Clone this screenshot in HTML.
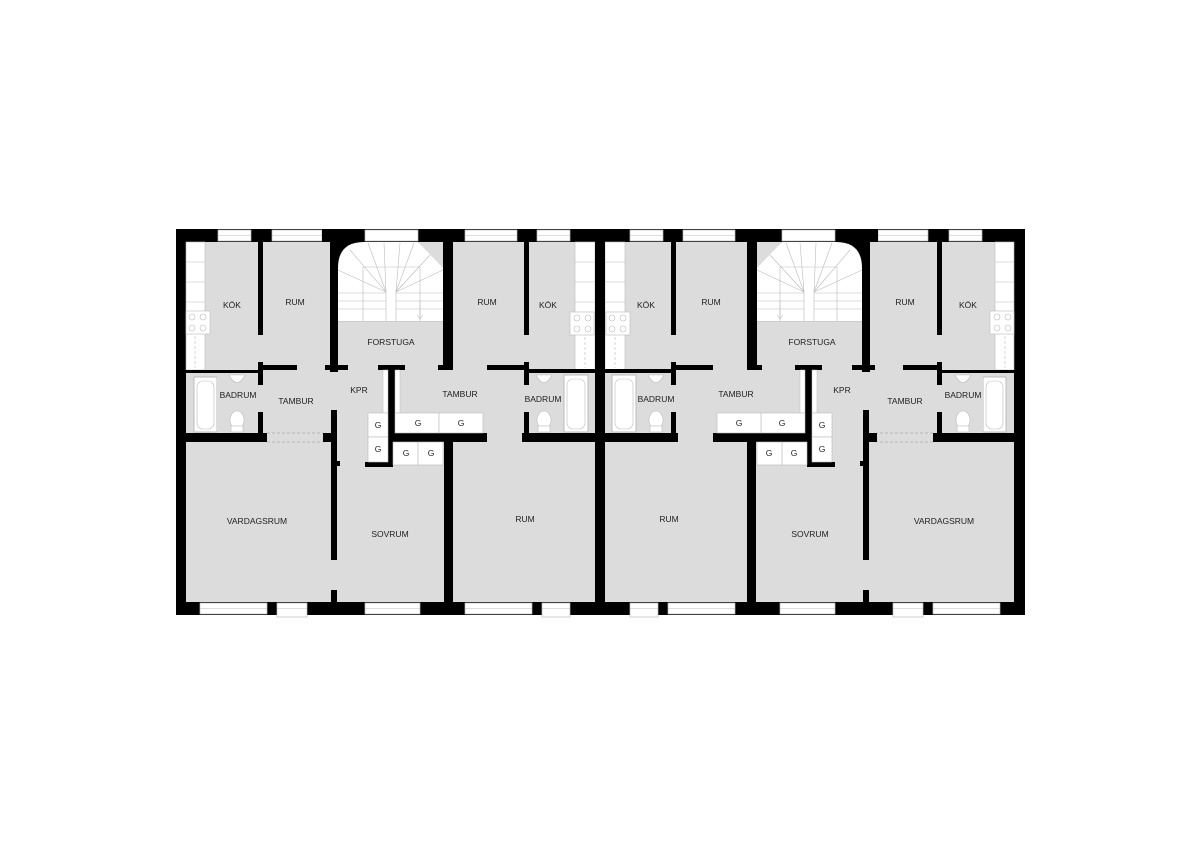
<!DOCTYPE html>
<html><head><meta charset="utf-8"><style>
html,body{margin:0;padding:0;background:#fff;width:1200px;height:848px;overflow:hidden}
svg{display:block}
text{font-family:"Liberation Sans",sans-serif;font-size:8.5px;fill:#222;text-anchor:middle}
</style></head><body>
<svg width="1200" height="848" viewBox="0 0 1200 848" xmlns="http://www.w3.org/2000/svg">
<defs>
<g id="half">
  <!-- floor -->
  <rect x="176" y="229" width="424" height="386" fill="#dcdcdc"/>
  <!-- outer walls -->
  <rect x="176" y="229" width="424" height="13" fill="#000"/>
  <rect x="176" y="229" width="10" height="386" fill="#000"/>
  <rect x="176" y="602" width="424" height="13" fill="#000"/>
  <rect x="595" y="229" width="5" height="386" fill="#000"/>
  <!-- top windows -->
  <g fill="#fff" stroke="#bbb" stroke-width="0.7">
    <rect x="218" y="230" width="33" height="11"/>
    <rect x="272" y="230" width="50" height="11"/>
    <rect x="365" y="230" width="53" height="11"/>
    <rect x="465" y="230" width="52" height="11"/>
    <rect x="537" y="230" width="33" height="11"/>
    <!-- bottom windows -->
    <rect x="200" y="603" width="67" height="11"/>
    <rect x="277" y="603" width="30" height="14"/>
    <rect x="365" y="603" width="55" height="11"/>
    <rect x="465" y="603" width="67" height="11"/>
    <rect x="542" y="603" width="28" height="14"/>
  </g>
  <g stroke="#bbb" stroke-width="0.6">
    <line x1="218" y1="235.5" x2="251" y2="235.5"/><line x1="272" y1="235.5" x2="322" y2="235.5"/>
    <line x1="365" y1="235.5" x2="418" y2="235.5"/><line x1="465" y1="235.5" x2="517" y2="235.5"/>
    <line x1="537" y1="235.5" x2="570" y2="235.5"/>
    <line x1="200" y1="608.5" x2="267" y2="608.5"/><line x1="277" y1="608.5" x2="307" y2="608.5"/>
    <line x1="365" y1="608.5" x2="420" y2="608.5"/><line x1="465" y1="608.5" x2="532" y2="608.5"/>
    <line x1="542" y1="608.5" x2="570" y2="608.5"/>
  </g>
  <!-- stair block -->
  <rect x="322" y="229" width="131" height="13" fill="#000"/>
  <rect x="330" y="229" width="8" height="143" fill="#000"/>
  <rect x="443" y="229" width="10" height="141" fill="#000"/>
  <path d="M338 242 L338 321 L443 321 L443 270 L418 242 Z" fill="#000"/>
  <path d="M338 321 L338 268 Q338 242 364 242 L418 242 L443 268 L443 321 Z" fill="#fff"/>
  <rect x="365" y="230" width="53" height="11" fill="#fff" stroke="#bbb" stroke-width="0.7"/>
  <g stroke="#bbb" stroke-width="0.6" fill="none">
    <line x1="338" y1="293" x2="386" y2="293"/><line x1="338" y1="301" x2="386" y2="301"/>
    <line x1="338" y1="309" x2="386" y2="309"/><line x1="396" y1="293" x2="443" y2="293"/>
    <line x1="396" y1="301" x2="443" y2="301"/><line x1="396" y1="309" x2="443" y2="309"/>
    <line x1="386" y1="292" x2="386" y2="321"/><line x1="396" y1="292" x2="396" y2="321"/>
    <line x1="363" y1="267" x2="420" y2="267"/><line x1="363" y1="267" x2="363" y2="321"/><line x1="420" y1="267" x2="420" y2="321"/>
    <line x1="386" y1="292" x2="338" y2="270"/><line x1="386" y1="292" x2="350" y2="250"/><line x1="386" y1="292" x2="368" y2="243"/><line x1="386" y1="292" x2="384" y2="243"/>
    <line x1="396" y1="292" x2="443" y2="270"/><line x1="396" y1="292" x2="430" y2="255"/><line x1="396" y1="292" x2="414" y2="243"/><line x1="396" y1="292" x2="400" y2="243"/>
    <line x1="420" y1="300" x2="420" y2="318"/><path d="M417 315 L420 319 L423 315"/>
  </g>
  <rect x="338" y="321" width="105" height="1" fill="#ccc"/>
  <!-- stair wall T stubs -->
  <rect x="325" y="365" width="23" height="5" fill="#000"/>
  <rect x="438" y="365" width="15" height="5" fill="#000"/>
  <!-- kitchen / room dividers -->
  <rect x="258" y="242" width="5" height="93" fill="#000"/>
  <rect x="524" y="242" width="5" height="93" fill="#000"/>
  <!-- kitchen counters -->
  <rect x="186" y="242" width="19" height="128" fill="#fff" stroke="#bbb" stroke-width="0.6"/>
  <g stroke="#bbb" stroke-width="0.6" fill="none">
    <line x1="186" y1="262" x2="205" y2="262"/><line x1="186" y1="282" x2="205" y2="282"/><line x1="186" y1="302" x2="205" y2="302"/>
    <rect x="186" y="311" width="24" height="23" fill="#fff"/>
    <circle cx="192" cy="317" r="3"/><circle cx="203" cy="317" r="3"/><circle cx="192" cy="328" r="3"/><circle cx="203" cy="328" r="3"/>
    <line x1="195" y1="336" x2="195" y2="368" stroke-dasharray="3,2"/>
  </g>
  <rect x="575" y="242" width="20" height="128" fill="#fff" stroke="#bbb" stroke-width="0.6"/>
  <g stroke="#bbb" stroke-width="0.6" fill="none">
    <line x1="575" y1="262" x2="595" y2="262"/><line x1="575" y1="282" x2="595" y2="282"/><line x1="575" y1="302" x2="595" y2="302"/>
    <rect x="570" y="312" width="24" height="23" fill="#fff"/>
    <circle cx="577" cy="318" r="3"/><circle cx="588" cy="318" r="3"/><circle cx="577" cy="329" r="3"/><circle cx="588" cy="329" r="3"/>
    <line x1="585" y1="337" x2="585" y2="368" stroke-dasharray="3,2"/>
  </g>
  <!-- left bathroom -->
  <rect x="186" y="370" width="75" height="3" fill="#000"/>
  <rect x="263" y="365" width="34" height="5" fill="#000"/>
  <rect x="258" y="362" width="5" height="23" fill="#000"/>
  <rect x="258" y="412" width="5" height="25" fill="#000"/>
  <rect x="186" y="433" width="81" height="9" fill="#000"/>
  <rect x="186" y="373" width="72" height="60" fill="#dcdcdc"/>
  <rect x="194" y="377" width="23" height="55" fill="#fff" stroke="#bbb"/>
  <rect x="197" y="381" width="17" height="48" rx="6" fill="#fff" stroke="#bbb" stroke-width="0.6"/>
  <rect x="217" y="373" width="41" height="60" fill="#dcdcdc"/>
  <path d="M229 375 Q237 390 245 375 Z" fill="#fff" stroke="#bbb" stroke-width="0.6"/>
  <ellipse cx="237" cy="420" rx="7" ry="9" fill="#fff" stroke="#bbb" stroke-width="0.6"/>
  <rect x="231" y="426" width="12" height="6" fill="#fff" stroke="#bbb" stroke-width="0.6"/>
  <!-- dashed opening tambur -> vardagsrum -->
  <g stroke="#aaa" stroke-width="0.7" stroke-dasharray="3,2">
    <line x1="267" y1="433" x2="323" y2="433"/><line x1="267" y1="442" x2="323" y2="442"/>
  </g>
  <rect x="323" y="433" width="14" height="9" fill="#000"/>
  <!-- vardagsrum / sovrum wall -->
  <rect x="331" y="410" width="6" height="150" fill="#000"/>
  <rect x="337" y="461" width="3" height="5" fill="#000"/>
  <rect x="331" y="590" width="6" height="13" fill="#000"/>
  <!-- KPR / closets -->
  <rect x="378" y="365" width="27" height="5" fill="#000"/>
  <rect x="388" y="368" width="7" height="97" fill="#000"/>
  <rect x="365" y="462" width="28" height="5" fill="#000"/>
  <rect x="388" y="433" width="99" height="9" fill="#000"/>
  <rect x="383" y="370" width="5" height="43" fill="#fff" stroke="#bbb" stroke-width="0.5"/>
  <rect x="395" y="370" width="5" height="43" fill="#fff" stroke="#bbb" stroke-width="0.5"/>
  <g fill="#fff" stroke="#bbb" stroke-width="0.6">
    <rect x="368" y="413" width="20" height="24"/><rect x="368" y="437" width="20" height="25"/>
    <rect x="395" y="413" width="44" height="20"/><rect x="439" y="413" width="44" height="20"/>
    <rect x="393" y="442" width="25" height="23"/><rect x="418" y="442" width="25" height="23"/>
  </g>
  <!-- sovrum / rum wall -->
  <rect x="444" y="442" width="9" height="163" fill="#000"/>
  <!-- right bathroom -->
  <rect x="487" y="365" width="41" height="5" fill="#000"/>
  <rect x="524" y="362" width="5" height="23" fill="#000"/>
  <rect x="524" y="412" width="5" height="25" fill="#000"/>
  <rect x="529" y="369" width="66" height="4" fill="#000"/>
  <rect x="522" y="433" width="78" height="9" fill="#000"/>
  <rect x="529" y="373" width="66" height="60" fill="#dcdcdc"/>
  <rect x="564" y="375" width="24" height="57" fill="#fff" stroke="#bbb"/>
  <rect x="567" y="379" width="18" height="50" rx="6" fill="#fff" stroke="#bbb" stroke-width="0.6"/>
  <path d="M536 375 Q544 390 552 375 Z" fill="#fff" stroke="#bbb" stroke-width="0.6"/>
  <ellipse cx="544" cy="420" rx="7" ry="9" fill="#fff" stroke="#bbb" stroke-width="0.6"/>
  <rect x="538" y="426" width="12" height="6" fill="#fff" stroke="#bbb" stroke-width="0.6"/>
  <rect x="595" y="229" width="5" height="386" fill="#000"/>
</g>
</defs>
<use href="#half"/>
<use href="#half" transform="matrix(-1,0,0,1,1200,0)"/>
<rect x="595" y="229" width="10" height="386" fill="#000"/>
<rect x="1015" y="229" width="10" height="386" fill="#000"/>
<!-- labels -->
<text x="232" y="308">KÖK</text><text x="295" y="305">RUM</text>
<text x="391" y="345">FORSTUGA</text><text x="487" y="305">RUM</text><text x="548" y="308">KÖK</text>
<text x="238" y="398">BADRUM</text><text x="296" y="404">TAMBUR</text><text x="359" y="393">KPR</text>
<text x="460" y="397">TAMBUR</text><text x="543" y="402">BADRUM</text>
<text x="378" y="428">G</text><text x="378" y="452">G</text><text x="418" y="426">G</text><text x="461" y="426">G</text>
<text x="406" y="456">G</text><text x="431" y="456">G</text>
<text x="257" y="524">VARDAGSRUM</text><text x="390" y="537">SOVRUM</text><text x="525" y="522">RUM</text>
<text x="646" y="308">KÖK</text><text x="711" y="305">RUM</text>
<text x="812" y="345">FORSTUGA</text><text x="905" y="305">RUM</text><text x="968" y="308">KÖK</text>
<text x="656" y="402">BADRUM</text><text x="736" y="397">TAMBUR</text><text x="842" y="393">KPR</text>
<text x="905" y="404">TAMBUR</text><text x="963" y="398">BADRUM</text>
<text x="822" y="428">G</text><text x="822" y="452">G</text><text x="782" y="426">G</text><text x="739" y="426">G</text>
<text x="794" y="456">G</text><text x="769" y="456">G</text>
<text x="669" y="522">RUM</text><text x="810" y="537">SOVRUM</text><text x="944" y="524">VARDAGSRUM</text>
</svg>
</body></html>
